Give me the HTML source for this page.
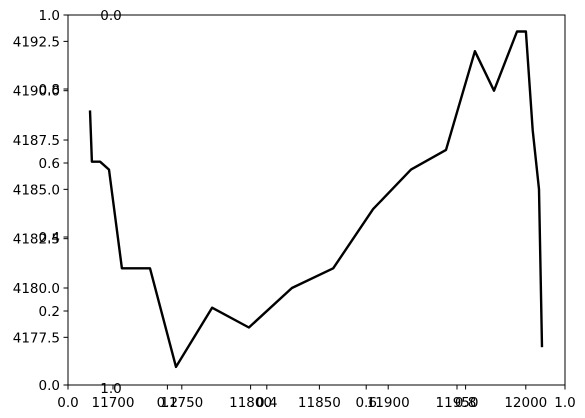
<!DOCTYPE html>
<html><head><meta charset="utf-8"><style>
body{margin:0;background:#fff}
svg{display:block;font-family:"DejaVu Sans","Liberation Sans",sans-serif}
</style></head><body>
<svg id="chart" width="585" height="418" viewBox="0 0 585 418">
<rect width="585" height="418" fill="#fff"/>
<g id="ticks"></g>
<path id="line" fill="none" stroke="#000" stroke-width="2.4" stroke-linejoin="round"/>
<rect x="68" y="15" width="497" height="370" fill="none" stroke="#000" stroke-width="1"/>
<text x="111" y="20" font-size="13.5" text-anchor="middle">0.0</text>
<text x="111" y="393" font-size="13.5" text-anchor="middle">1.0</text>
</svg>
<script>
const xValues=[11683.3,11684.7,11690.6,11697.1,11706.5,11726.9,11745.8,11772,11798.8,11830,11860,11889,11916.6,11942,11963,11976.9,11993.6,12000.1,12005,12009.6,12011.8];
const yValues=[4189.0,4186.4,4186.4,4186.0,4181.0,4181.0,4176.0,4179.0,4178.0,4180.0,4181.0,4184.0,4186.0,4187.0,4192.0,4190.0,4193.0,4193.0,4188.0,4185.0,4177.0];
const xTicks=[11700,11750,11800,11850,11900,11950,12000];
const yTicks=[4177.5,4180.0,4182.5,4185.0,4187.5,4190.0,4192.5];
const unitTicks=[0,0.2,0.4,0.6,0.8,1.0];
const X=v=>113+(v-11700)/50*68.8;
const Y=v=>288-(v-4180)*19.73;
const UX=v=>68+v*497, UY=v=>385-v*370;
const ns="http://www.w3.org/2000/svg";
const g=document.getElementById('ticks');
const FS=13.5;
function mk(tag,a,txt){const e=document.createElementNS(ns,tag);for(const k in a)e.setAttribute(k,a[k]);if(txt!==undefined)e.textContent=txt;g.appendChild(e);return e;}
xTicks.forEach(v=>{const x=X(v);
const t=mk('line',{x1:x,x2:x,y1:385,y2:389.5,stroke:'#000'});


const l=mk('text',{x:x,y:407,'font-size':FS,'text-anchor':'middle'},String(v));

});
yTicks.forEach(v=>{const y=Y(v);
const t=mk('line',{x1:63.5,x2:68,y1:y,y2:y,stroke:'#000'});


const l=mk('text',{x:60,y:y+5,'font-size':FS,'text-anchor':'end'},v.toFixed(1));

});
unitTicks.forEach(v=>{const x=UX(v),y=UY(v);
const a=mk('line',{x1:x,x2:x,y1:385,y2:389.5,stroke:'#000'});


const b=mk('text',{x:x,y:407,'font-size':FS,'text-anchor':'middle'},v.toFixed(1));


const c=mk('line',{x1:63.5,x2:68,y1:y,y2:y,stroke:'#000'});


const d=mk('text',{x:60,y:y+5,'font-size':FS,'text-anchor':'end'},v.toFixed(1));

});
document.getElementById('line').setAttribute('d',xValues.map((v,i)=>(i?'L':'M')+X(v).toFixed(1)+','+Y(yValues[i]).toFixed(1)).join(''));
</script>
</body></html>
